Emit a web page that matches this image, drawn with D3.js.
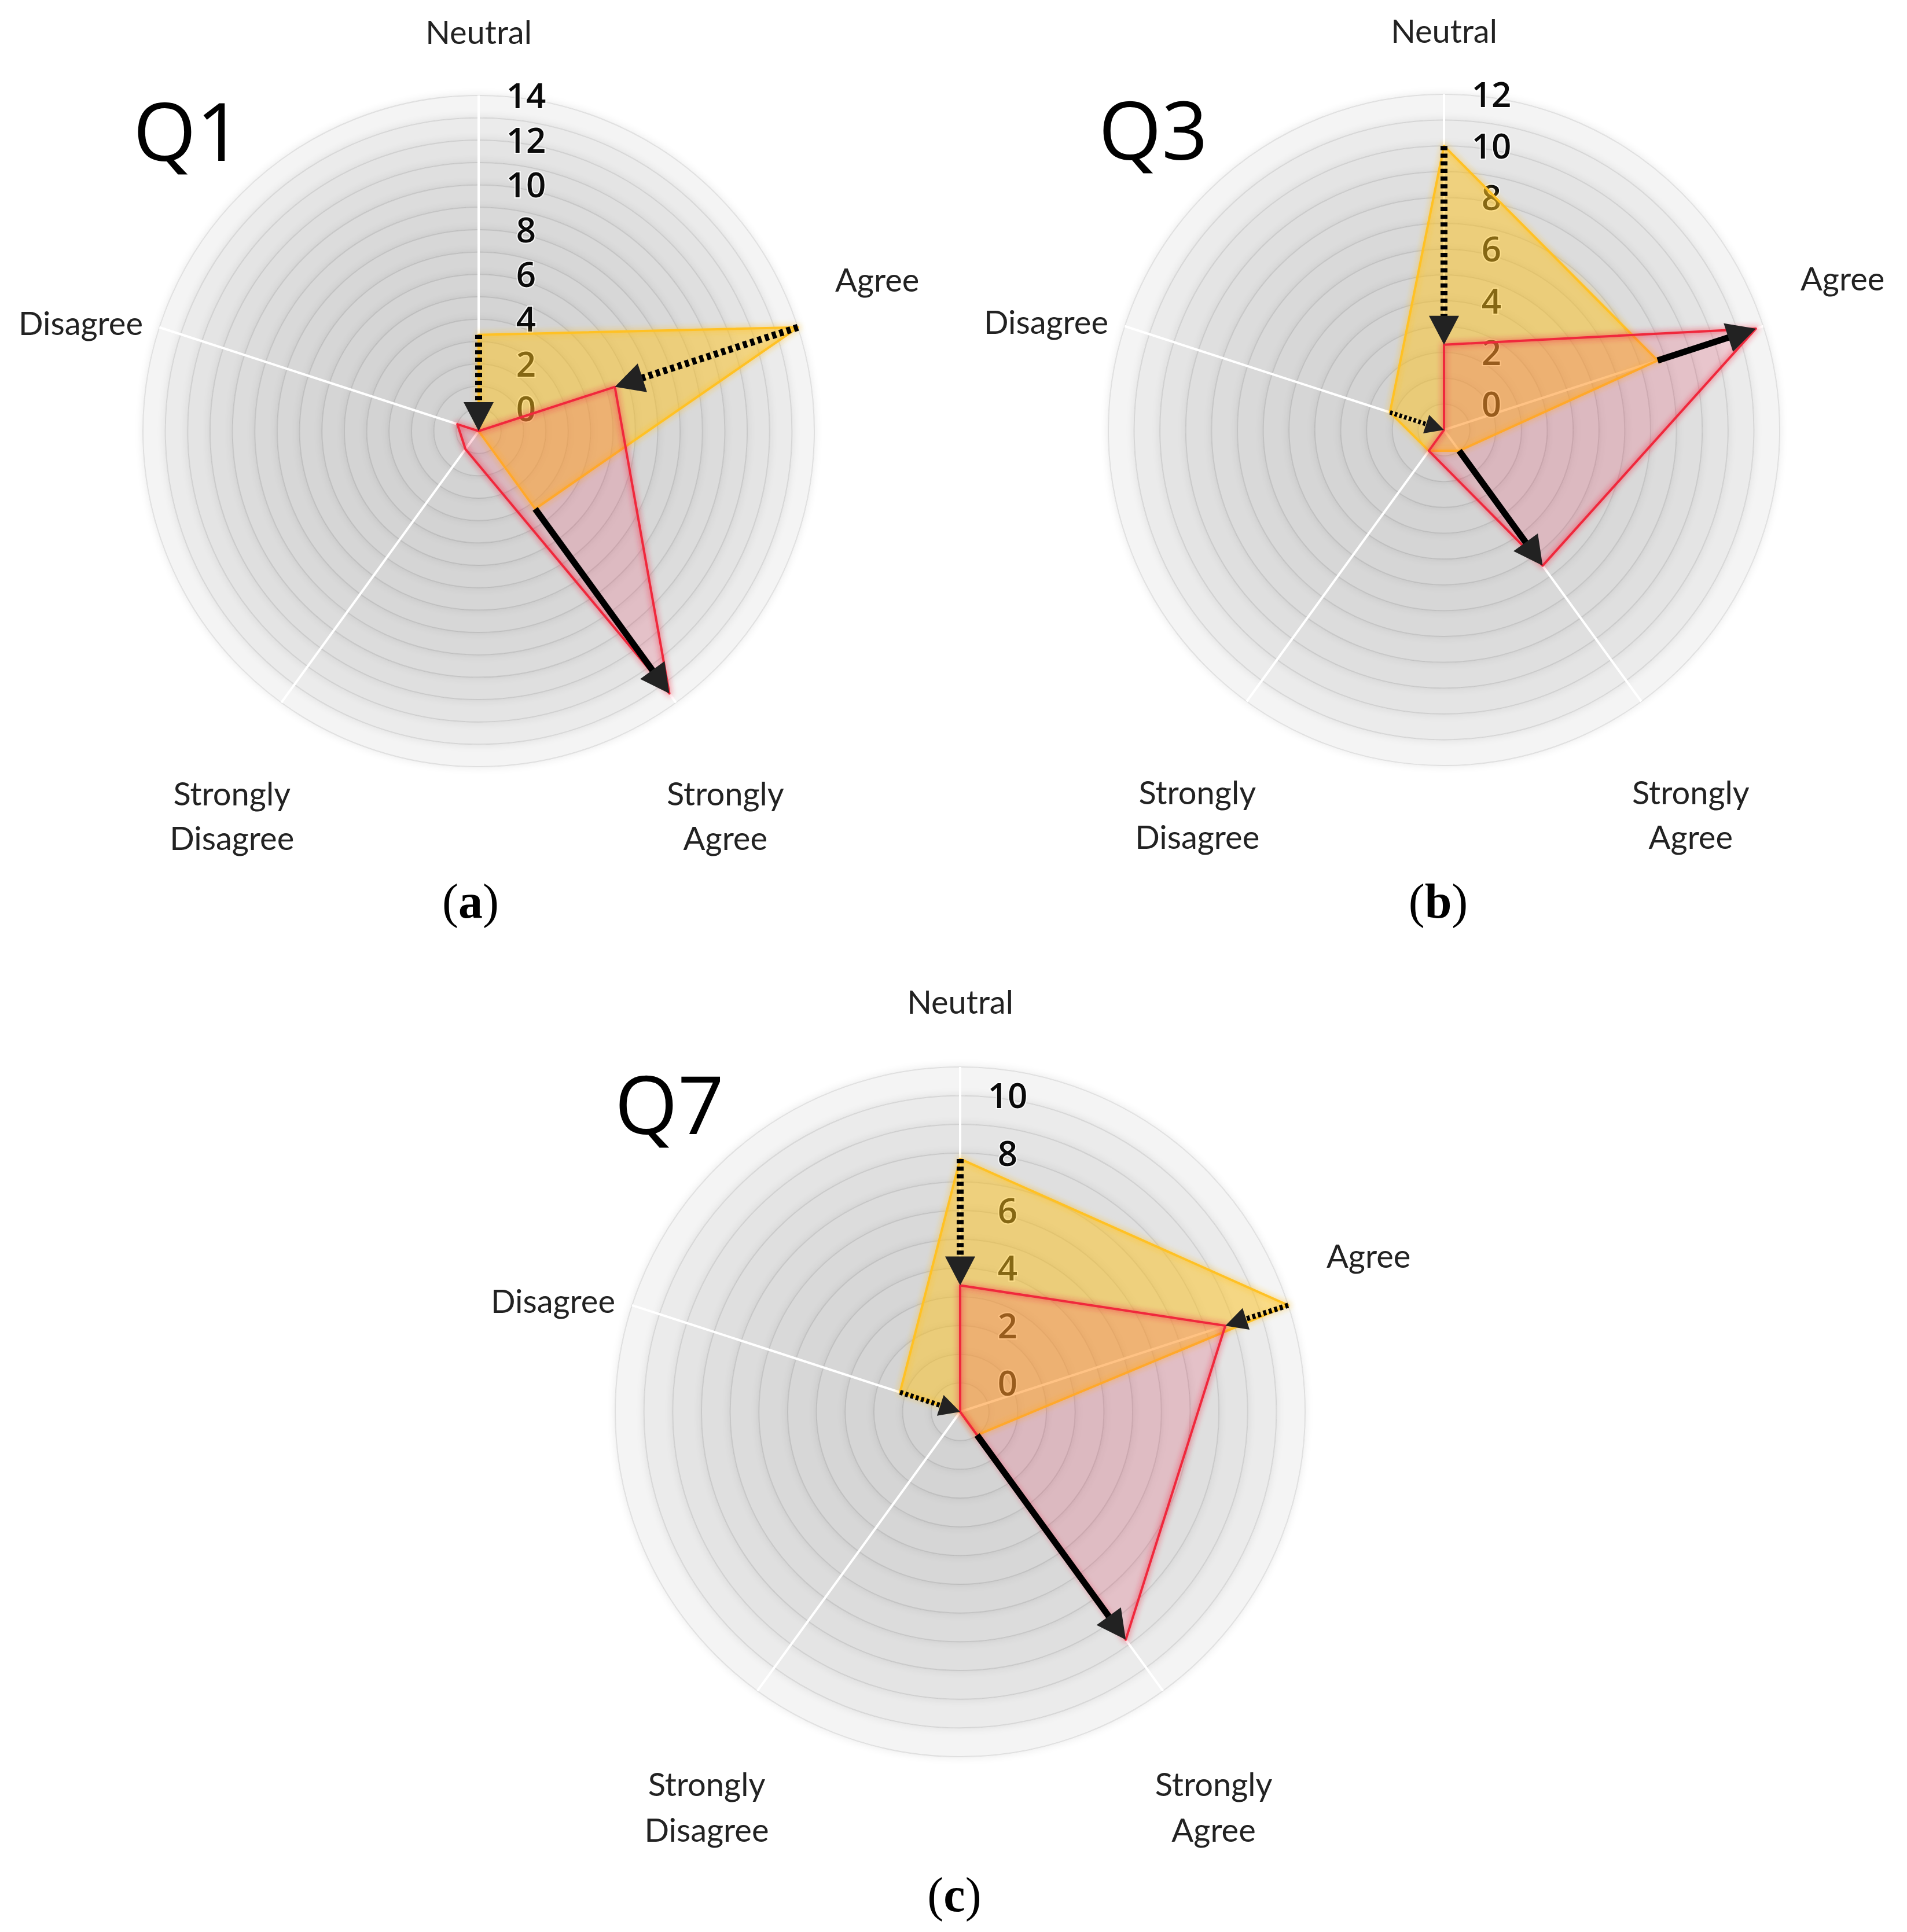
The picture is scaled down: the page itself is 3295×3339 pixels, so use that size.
<!DOCTYPE html>
<html>
<head>
<meta charset="utf-8">
<script src="https://cdn.jsdelivr.net/npm/d3@7"></script>
<style>
  body { margin: 0; background: #fff; }
  svg { display: block; }
</style>
</head>
<body>
<div id="chart"></div>
<script>
// axes of every radar, clockwise from the top
const categories = ["Neutral", "Agree", "Strongly Agree", "Strongly Disagree", "Disagree"];

// values (yellow = before, red = after)
const q1Before = [3.3, 14, 3.3, -1, -1];
const q1After  = [-1, 5.4, 13.5, 0, 0];
const q3Before = [10, 7.7, 0, 0, 1.2];
const q3After  = [2.3, 11.7, 5.5, 0, -1];
const q7Before = [7.8, 11, 0, -1, 1.2];
const q7After  = [3.4, 8.7, 8.8, -1, -1];

// tick labels on the radial axis
const q1Ticks = [0, 2, 4, 6, 8, 10, 12, 14];
const q3Ticks = [0, 2, 4, 6, 8, 10, 12];
const q7Ticks = [0, 2, 4, 6, 8, 10];

const width = 3295, height = 3339;

const svg = d3.select("#chart")
    .append("svg")
    .attr("width", width)
    .attr("height", height);

const defs = svg.append("defs");

// soft shadow round every ring
const ringShadow = defs.append("filter")
    .attr("id", "ringShadow")
    .attr("x", "-20%").attr("y", "-20%")
    .attr("width", "140%").attr("height", "140%");
ringShadow.append("feGaussianBlur")
    .attr("in", "SourceAlpha")
    .attr("stdDeviation", 8)
    .attr("result", "blur");
ringShadow.append("feComponentTransfer")
    .attr("in", "blur")
    .attr("result", "shadow")
    .append("feFuncA").attr("type", "linear").attr("slope", 0.1);
const merge = ringShadow.append("feMerge");
merge.append("feMergeNode").attr("in", "shadow");
merge.append("feMergeNode").attr("in", "SourceGraphic");

// blur for the glow under the outlines
defs.append("filter")
    .attr("id", "glow")
    .attr("x", "-20%").attr("y", "-20%")
    .attr("width", "140%").attr("height", "140%")
    .append("feGaussianBlur").attr("stdDeviation", 5);

// where the axis names sit, in units of the outer radius
const labelLayout = [
    {dx: 0, dy: -1.187, anchor: "middle"},
    {dx: 1.062, dy: -0.45, anchor: "start"},
    {dx: 0.735, dy: 1.082, anchor: "middle"},
    {dx: -0.735, dy: 1.082, anchor: "middle"},
    {dx: -1.0, dy: -0.32, anchor: "end"}
];

function radar(opt) {
    const R = opt.radius;
    const r = d3.scaleLinear().domain([-1, opt.max]).range([0, R]);
    const angle = d3.scaleLinear().domain([0, categories.length]).range([0, 2 * Math.PI]);
    const pt = (i, v) => [Math.sin(angle(i)) * r(v), -Math.cos(angle(i)) * r(v)];

    const g = svg.append("g").attr("transform", `translate(${opt.cx},${opt.cy})`);

    // background rings, lighter towards the rim
    const rings = d3.range(opt.max, -1, -1);
    g.selectAll(".disk")
        .data(rings)
        .join("circle")
        .attr("class", "disk")
        .attr("r", d => r(d))
        .attr("fill", (d, k) => {
            const v = Math.round(210 + 34 * Math.exp(-k / 3.2));
            return `rgb(${v},${v},${v})`;
        })
        .attr("filter", "url(#ringShadow)");

    g.selectAll(".ring")
        .data(rings)
        .join("circle")
        .attr("class", "ring")
        .attr("r", d => r(d))
        .attr("fill", "none")
        .attr("stroke", "rgba(0,0,0,0.085)")
        .attr("stroke-width", 2);

    // spokes
    g.selectAll(".spoke")
        .data(categories)
        .join("line")
        .attr("class", "spoke")
        .attr("x1", 0).attr("y1", 0)
        .attr("x2", (d, i) => pt(i, opt.max)[0])
        .attr("y2", (d, i) => pt(i, opt.max)[1])
        .attr("stroke", "#fff")
        .attr("stroke-width", 4);

    // tick labels (drawn below the data so the fill tints them)
    g.selectAll(".tick")
        .data(opt.ticks)
        .join("text")
        .attr("class", "tick")
        .attr("x", 82)
        .attr("y", d => -r(d))
        .attr("dy", "0.36em")
        .attr("text-anchor", "middle")
        .attr("font-family", "'Open Sans', sans-serif")
        .attr("font-weight", 600)
        .attr("font-size", 60)
        .attr("fill", "#0a0a0a")
        .attr("stroke", "rgba(255,255,255,0.8)")
        .attr("stroke-width", 4)
        .attr("paint-order", "stroke")
        .text(d => d);

    const line = d3.lineRadial()
        .angle((d, i) => angle(i))
        .radius(d => r(d))
        .curve(d3.curveLinearClosed);

    const series = [
        {values: opt.before, fill: "rgba(255,196,30,0.5)", stroke: "#ffc124"},
        {values: opt.after, fill: "rgba(255,40,80,0.16)", stroke: "#f0283c"}
    ];
    series.forEach(s => {
        g.append("path")
            .attr("d", line(s.values))
            .attr("fill", s.fill);
        g.append("path")
            .attr("d", line(s.values))
            .attr("fill", "none")
            .attr("stroke", s.stroke)
            .attr("stroke-opacity", 0.4)
            .attr("stroke-width", 10)
            .attr("stroke-linejoin", "round")
            .attr("filter", "url(#glow)");
        g.append("path")
            .attr("d", line(s.values))
            .attr("fill", "none")
            .attr("stroke", s.stroke)
            .attr("stroke-width", 4)
            .attr("stroke-linejoin", "round");
    });

    // arrows from the yellow value to the red value
    categories.forEach((c, i) => {
        const b = opt.before[i], a = opt.after[i];
        if (Math.abs(a - b) < 1.5) return;
        const p0 = pt(i, b), p1 = pt(i, a);
        const len = Math.hypot(p1[0] - p0[0], p1[1] - p0[1]);
        const ux = (p1[0] - p0[0]) / len, uy = (p1[1] - p0[1]) / len;
        const head = Math.min(50, len * 0.33);
        const half = head * 0.52;
        const dotted = a < b;
        const sw = dotted ? Math.max(7, head * 0.24) : 11;
        g.append("line")
            .attr("x1", p0[0]).attr("y1", p0[1])
            .attr("x2", p1[0] - ux * head * 0.8)
            .attr("y2", p1[1] - uy * head * 0.8)
            .attr("stroke", "#000")
            .attr("stroke-width", sw)
            .attr("stroke-dasharray", dotted ? `${sw * 0.6},${sw * 0.5}` : null);
        const bx = p1[0] - ux * head, by = p1[1] - uy * head;
        g.append("path")
            .attr("d", `M${p1[0]},${p1[1]}L${bx - uy * half},${by + ux * half}L${bx + uy * half},${by - ux * half}Z`)
            .attr("fill", "#222");
    });

    // axis names
    categories.forEach((c, i) => {
        const L = labelLayout[i];
        const words = c.startsWith("Strongly") ? c.split(" ") : [c];
        const t = g.append("text")
            .attr("text-anchor", L.anchor)
            .attr("font-family", "Lato, sans-serif")
            .attr("font-weight", 400)
            .attr("font-size", 56)
            .attr("fill", "#222");
        words.forEach((w, k) => {
            t.append("tspan")
                .attr("x", L.dx * R)
                .attr("y", L.dy * R + k * 0.132 * R)
                .attr("dy", "0.35em")
                .text(w);
        });
    });

    // big question label
    g.append("text")
        .attr("x", -597)
        .attr("y", -0.805 * R)
        .attr("font-family", "'Open Sans', sans-serif")
        .attr("font-size", 140)
        .attr("fill", "#000")
        .text(opt.title);

    // panel caption
    const cap = svg.append("text")
        .attr("x", opt.capX)
        .attr("y", opt.capY)
        .attr("text-anchor", "middle")
        .attr("dy", "0.35em")
        .attr("font-family", "'Liberation Serif', serif")
        .attr("font-weight", 400)
        .attr("font-size", 84)
        .attr("fill", "#000");
    cap.append("tspan").text("(");
    cap.append("tspan").attr("font-weight", 700).text(opt.caption);
    cap.append("tspan").text(")");
}

radar({cx: 827, cy: 745, radius: 580, max: 14, ticks: q1Ticks,
       before: q1Before, after: q1After, title: "Q1", caption: "a", capX: 813, capY: 1557});
radar({cx: 2495, cy: 743, radius: 580, max: 12, ticks: q3Ticks,
       before: q3Before, after: q3After, title: "Q3", caption: "b", capX: 2485, capY: 1557});
radar({cx: 1659, cy: 2440, radius: 596, max: 11, ticks: q7Ticks,
       before: q7Before, after: q7After, title: "Q7", caption: "c", capX: 1649, capY: 3274});
</script>
</body>
</html>
